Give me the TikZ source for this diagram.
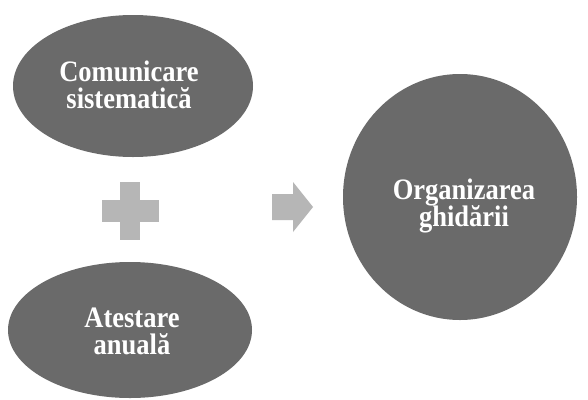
\documentclass[tikz,border=0pt]{standalone}
\usepackage{fontspec}
\setmainfont{Liberation Serif}
\usetikzlibrary{shapes.geometric}
\definecolor{ovalgray}{HTML}{6A6A6A}
\definecolor{signgray}{HTML}{B6B6B6}
\newcommand{\ovaltext}[2]{\scalebox{1}[1.12]{\vbox{\baselineskip=24pt\lineskiplimit=-20pt\halign{\hfil##\hfil\cr#1\cr#2\cr}}}}
\tikzset{
  oval/.style={ellipse, inner sep=0pt, fill=ovalgray},
  ovallabel/.style={inner sep=0pt, text=white, font=\fontsize{26.5}{24}\selectfont\bfseries}
}
\begin{document}
\begin{tikzpicture}[x=1pt,y=-1pt]
\useasboundingbox (0,0) rectangle (588,399);
\fill[white] (0,0) rectangle (588,399);
\node[oval, minimum width=240pt, minimum height=142pt] (top) at (133,86) {};
\node[ovallabel] (toptext) at (129,85) {\ovaltext{Comunicare}{sistematică}};
\node[oval, minimum width=244pt, minimum height=136pt] (bot) at (130,330) {};
\node[ovallabel] (bottext) at (132,331) {\ovaltext{Atestare}{anuală}};
\node[oval, minimum width=234pt, minimum height=246pt] (res) at (460,197) {};
\node[ovallabel] (restext) at (464,206) {\ovaltext{Organizarea}{ghidării}};
% plus sign
\node[inner sep=0pt] (plus) at (130,211) {};
\fill[signgray] ([xshift=-10pt,yshift=29pt]plus.center) rectangle ([xshift=10pt,yshift=-29pt]plus.center);
\fill[signgray] ([xshift=-28pt,yshift=11pt]plus.center) rectangle ([xshift=29pt,yshift=-11pt]plus.center);
% arrow
\node[inner sep=0pt] (arr) at (292,207) {};
\fill[signgray] (272,194) -- (293,194) -- (293,182) -- (313,207) -- (293,232) -- (293,220) -- (272,220) -- cycle;
\end{tikzpicture}
\end{document}
